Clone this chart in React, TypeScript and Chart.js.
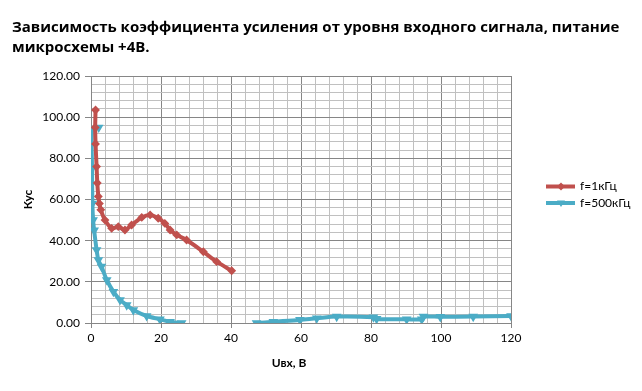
import React, { useEffect, useRef } from "react";
import { Chart, registerables } from "chart.js";

Chart.register(...registerables);

const titleLines = [
  "Зависимость коэффициента усиления от уровня входного сигнала, питание",
  "микросхемы +4В.",
];
const xTitle = "Uвх, В";
const yTitle = "Кус";
const seriesNames = ["f=1кГц", "f=500кГц"];
const seriesColors = ["#C0504D", "#4BACC6"];

// f=1кГц
const redX = [1.3, 1.2, 1.3, 1.6, 1.8, 2.1, 2.4, 2.8, 4, 5.9, 7.8, 9.7, 11.6, 14.5, 16.9, 19.2, 21.1, 22.6, 24.5, 27.3, 32.1, 35.9, 40.2];
const redY = [103.5, 95, 87, 76, 68, 61.5, 58, 55, 50, 46, 46.8, 45.2, 47.6, 51.3, 52.5, 50.9, 48.4, 45.2, 42.8, 40.3, 34.6, 29.8, 25.4];

// f=500кГц (null = break in the line)
const blueX = [2.2, 0.3, 0.3, 0.4, 0.6, 0.9, 1.6, 2.1, 3.0, 4.5, 6.4, 8.3, 10.2, 12.1, 15.9, 19.7, 22.6, 25.9, 36, 47.3, 52.1, 59.7, 64.5, 70.2, 80.7, 81.6, 90.2, 94.5, 95, 99.8, 109.2, 120];
const blueY: (number | null)[] = [95, 94, 75, 58, 50, 45, 35.5, 30.6, 27.4, 20.9, 15.2, 11.2, 8.7, 6.3, 3.4, 1.8, 0.6, 0, null, 0, 0.6, 1.5, 2.3, 3.1, 2.8, 2.0, 1.8, 1.8, 3.1, 3.0, 3.1, 3.4];

const FONT = "Lato, 'Open Sans', sans-serif";
const TITLE_FONT = "'Open Sans', Lato, sans-serif";

export default function App() {
  const ref = useRef<HTMLCanvasElement | null>(null);

  useEffect(() => {
    document.body.style.margin = "0";
    const canvas = ref.current!;
    const majorColor = "#868686";
    const minorColor = "#C0C0C0";

    const gridColor = (ctx: any) =>
      ctx.tick && Math.round(ctx.tick.value) % 20 === 0 ? majorColor : minorColor;
    const tickColor = (ctx: any) =>
      ctx.tick && Math.round(ctx.tick.value) % 20 === 0 ? majorColor : "rgba(0,0,0,0)";

    const drawMarker = (c: CanvasRenderingContext2D, i: number, x: number, y: number, r: number) => {
      c.beginPath();
      if (i === 0) {
        c.moveTo(x, y - r);
        c.lineTo(x + r, y);
        c.lineTo(x, y + r);
        c.lineTo(x - r, y);
      } else {
        c.moveTo(x - r, y - r * 0.6);
        c.lineTo(x + r, y - r * 0.6);
        c.lineTo(x, y + r);
      }
      c.closePath();
      c.fill();
    };

    const extras = {
      id: "extras",
      afterDraw(chart: any) {
        const c: CanvasRenderingContext2D = chart.ctx;
        c.save();
        c.fillStyle = "#000";
        c.font = `bold 12px ${FONT}`;
        c.textAlign = "center";
        c.textBaseline = "middle";
        c.fillText(xTitle, 289, 363);
        const ys = [186.5, 203];
        seriesNames.forEach((name, i) => {
          const y = ys[i];
          c.strokeStyle = seriesColors[i];
          c.fillStyle = seriesColors[i];
          c.lineWidth = 4;
          c.beginPath();
          c.moveTo(546, y);
          c.lineTo(575, y);
          c.stroke();
          drawMarker(c, i, 561, y, 4);
          c.fillStyle = "#000";
          c.font = `12px ${FONT}`;
          c.textAlign = "left";
          c.fillText(name, 580, y);
        });
        c.restore();
      },
    };

    const chart = new Chart(canvas, {
      type: "line",
      data: {
        datasets: [
          {
            label: seriesNames[0],
            data: redX.map((x, i) => ({ x, y: redY[i] })),
            borderColor: seriesColors[0],
            backgroundColor: seriesColors[0],
            borderWidth: 4,
            pointRadius: 1.6,
            pointStyle: "rectRot",
            tension: 0.3,
          },
          {
            label: seriesNames[1],
            data: blueX.map((x, i) => ({ x, y: blueY[i] })) as any,
            borderColor: seriesColors[1],
            backgroundColor: seriesColors[1],
            borderWidth: 4,
            pointRadius: 1.6,
            pointStyle: "triangle",
            rotation: 180,
            tension: 0.3,
            spanGaps: false,
          },
        ],
      },
      options: {
        responsive: false,
        animation: false,
        layout: { padding: { left: 12, right: 0, top: 0, bottom: 0 } },
        plugins: {
          legend: { display: false },
          tooltip: { enabled: false },
          title: {
            display: true,
            text: titleLines,
            align: "start",
            color: "#000",
            font: { family: TITLE_FONT, size: 15, weight: "bold", lineHeight: "20px" },
            padding: { top: 18, bottom: 18 },
          },
        },
        scales: {
          x: {
            type: "linear",
            min: 0,
            max: 120,
            afterFit: (s: any) => {
              s.height = 68;
            },
            ticks: {
              stepSize: 4,
              autoSkip: false,
              maxRotation: 0,
              color: "#000",
              padding: 3,
              font: { family: FONT, size: 12 },
              callback: (v: any) => (Math.round(v) % 20 === 0 ? String(v) : ""),
            },
            grid: { color: gridColor, tickColor, tickLength: 5, lineWidth: 1 },
            border: { color: majorColor },
          },
          y: {
            type: "linear",
            min: 0,
            max: 120,
            afterFit: (s: any) => {
              s.width = 79;
            },
            title: {
              display: true,
              text: yTitle,
              color: "#000",
              font: { family: FONT, size: 12, weight: "bold" },
              padding: { top: 9, bottom: 0 },
            },
            ticks: {
              stepSize: 4,
              autoSkip: false,
              color: "#000",
              padding: 5,
              font: { family: FONT, size: 12 },
              callback: (v: any) => (Math.round(v) % 20 === 0 ? Number(v).toFixed(2) : ""),
            },
            grid: { color: gridColor, tickColor, tickLength: 6, lineWidth: 1 },
            border: { color: majorColor },
          },
          legendSpace: {
            type: "linear",
            position: "right",
            display: true,
            afterFit: (s: any) => {
              s.width = 131;
            },
            ticks: { display: false },
            grid: { display: false, drawOnChartArea: false, drawTicks: false },
            border: { display: false },
          },
        },
      },
      plugins: [extras],
    } as any);

    return () => chart.destroy();
  }, []);

  return (
    <div style={{ width: 642, height: 391, background: "#fff" }}>
      <canvas ref={ref} width={642} height={391} style={{ display: "block" }} />
    </div>
  );
}
